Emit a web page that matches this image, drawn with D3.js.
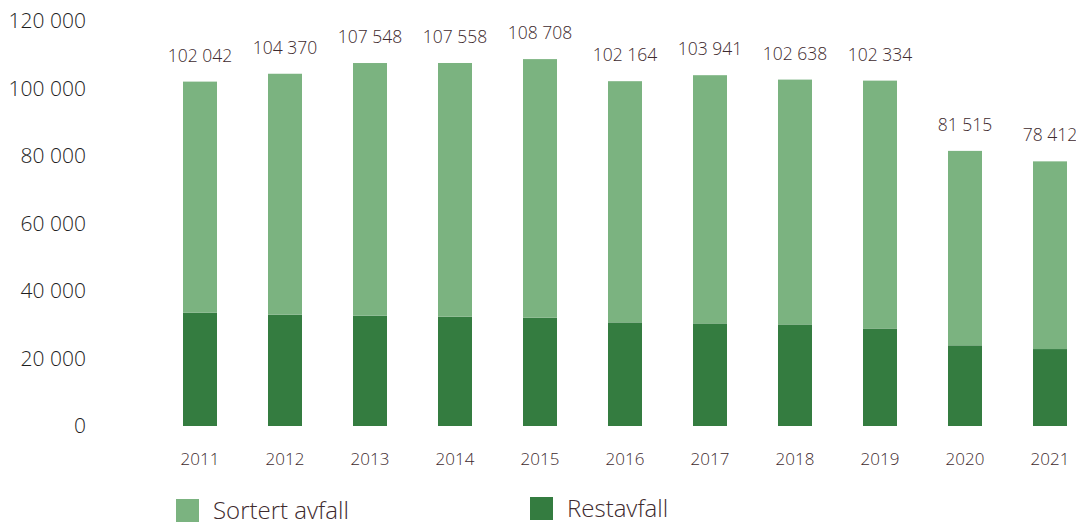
<!DOCTYPE html>
<html>
<head>
<meta charset="utf-8">
<script src="https://cdn.jsdelivr.net/npm/d3@7"></script>
<style>
  body { margin: 0; background: #fff; }
  svg text { font-family: "Open Sans", "Noto Sans", sans-serif; font-weight: 300; }
</style>
</head>
<body>
<div id="chart"></div>
<script>
// Data
const years = ["2011", "2012", "2013", "2014", "2015", "2016", "2017", "2018", "2019", "2020", "2021"];
const totals = [102042, 104370, 107548, 107558, 108708, 102164, 103941, 102638, 102334, 81515, 78412];
const restavfall = [33600, 33000, 32700, 32400, 32100, 30700, 30400, 30100, 28900, 23900, 22800];
const yTicks = [0, 20000, 40000, 60000, 80000, 100000, 120000];
const seriesNames = ["Sortert avfall", "Restavfall"];
const colors = ["#7bb380", "#347c40"];

const W = 1076, H = 525;
const svg = d3.select("#chart")
    .append("svg")
    .attr("width", W)
    .attr("height", H);

// Scales
const y = d3.scaleLinear()
    .domain([0, 120000])
    .range([426, 21]);

const x = d3.scaleBand()
    .domain(years)
    .range([157.5, 1092.5])
    .paddingInner(0.6)
    .paddingOuter(0.3);

const fmtAxis = v => d3.format(",")(v).replace(/,/g, " ");

// Y axis (labels only)
svg.append("g")
    .attr("transform", "translate(86,0)")
    .call(d3.axisLeft(y).tickValues(yTicks).tickSize(0).tickPadding(0).tickFormat(fmtAxis))
    .call(g => g.select(".domain").remove())
    .selectAll("text")
    .style("font-size", "21px")
    .style("fill", "#1e1e1e");

// Stacked bars
const rows = years.map((yr, i) => ({year: yr, rest: restavfall[i], sorted: totals[i] - restavfall[i], total: totals[i]}));

svg.append("g").selectAll("rect")
    .data(rows)
    .enter()
    .append("rect")
    .attr("x", d => x(d.year))
    .attr("y", d => y(d.rest))
    .attr("width", x.bandwidth())
    .attr("height", d => y(0) - y(d.rest))
    .style("fill", colors[1]);

svg.append("g").selectAll("rect")
    .data(rows)
    .enter()
    .append("rect")
    .attr("x", d => x(d.year))
    .attr("y", d => y(d.total))
    .attr("width", x.bandwidth())
    .attr("height", d => y(d.rest) - y(d.total))
    .style("fill", colors[0]);

// Value labels
svg.append("g").selectAll("text")
    .data(rows)
    .enter()
    .append("text")
    .attr("x", d => x(d.year) + x.bandwidth() / 2)
    .attr("y", d => y(d.total) - 20)
    .attr("text-anchor", "middle")
    .style("font-size", "17.5px")
    .style("fill", "#3e2a2e")
    .text(d => fmtAxis(d.total));

// X axis (labels only)
svg.append("g")
    .attr("transform", "translate(0,465)")
    .call(d3.axisBottom(x).tickSize(0).tickPadding(0))
    .call(g => g.select(".domain").remove())
    .selectAll("text")
    .attr("dy", 0)
    .style("font-size", "17px")
    .style("fill", "#3e2a2e");

// Legend
const legendX = [176, 530];
const legendY = [499, 497];
const legend = svg.append("g");
seriesNames.forEach((name, i) => {
    legend.append("rect")
        .attr("x", legendX[i])
        .attr("y", legendY[i])
        .attr("width", 23)
        .attr("height", 23)
        .style("fill", colors[i]);
    legend.append("text")
        .attr("x", legendX[i] + 37)
        .attr("y", legendY[i] + 20)
        .style("font-size", "24px")
        .style("fill", "#3e2a2e")
        .text(name);
});
</script>
</body>
</html>
